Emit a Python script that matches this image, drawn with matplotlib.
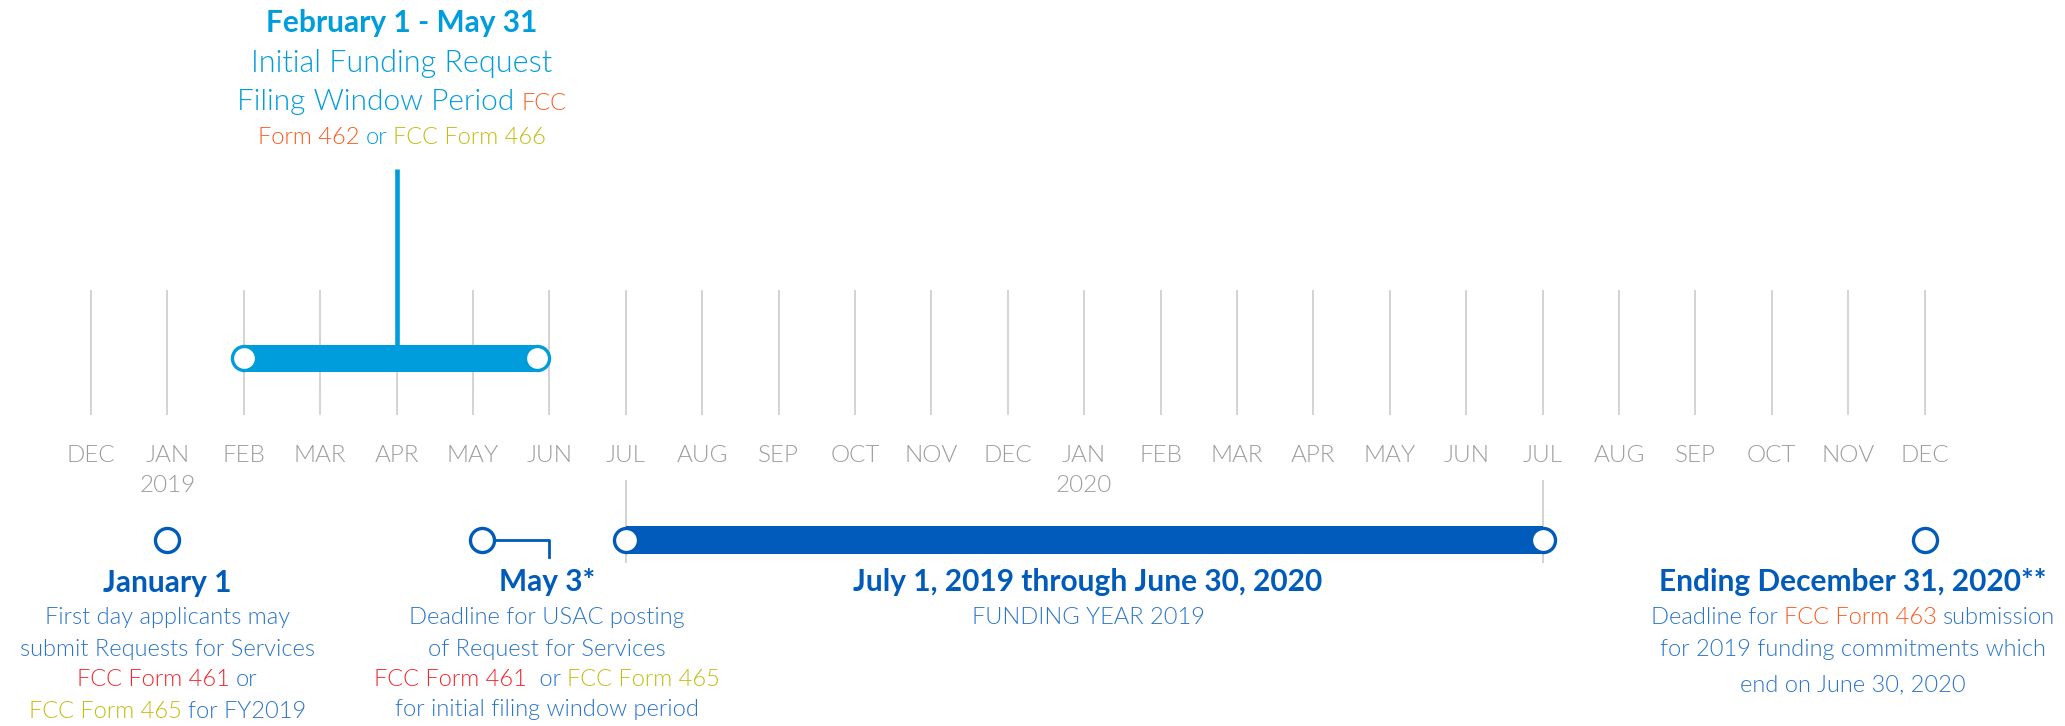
import matplotlib
matplotlib.use('Agg')
import matplotlib.pyplot as plt
from matplotlib.offsetbox import TextArea, HPacker, AnnotationBbox

plt.rcParams['font.family'] = ['Lato', 'DejaVu Sans']

# month axis: position = months after Dec 2018
months = ['DEC', 'JAN', 'FEB', 'MAR', 'APR', 'MAY', 'JUN',
          'JUL', 'AUG', 'SEP', 'OCT', 'NOV'] * 2 + ['DEC']
month_pos = list(range(len(months)))
year_pos = [1, 13]
year_labels = ['2019', '2020']

# filing window Feb 1 - May 31 2019, with its callout stem
window_start, window_end = 2.0, 5.84
window_stem = 4.0

# funding year Jul 1 2019 - Jun 30 2020
fy_start, fy_end = 7.0, 19.0

# single-day milestones
jan1 = 1.0
may3 = 5.12
may3_link = 6.0
dec31 = 24.0

LIGHT = '#009ddc'
DARK = '#005bbb'
BODY = '#2a74cc'
RED = '#f0282d'
ORANGE = '#ff5a1f'
YELLOW = '#c4bd10'
GRAY_TXT = '#9c9c9c'
GRID = '#cccccc'

BOLD = 21.5
BODY_SZ = 17
LW = 300  # light weight

fig = plt.figure(figsize=(20.65, 7.26), dpi=100)
ax = fig.add_axes([0, 0, 1, 1])
ax.set_xlim(-91 / 76.4, (2065 - 91) / 76.4)
ax.set_ylim(726, 0)
ax.axis('off')

# grid + month labels
ax.vlines(month_pos, 290, 415, color=GRID, lw=1.2, zorder=1)
ax.vlines([fy_start, fy_end], 480, 563, color=GRID, lw=1.2, zorder=1)
for m, lab in zip(month_pos, months):
    ax.text(m, 455, lab, ha='center', va='center', fontsize=17.5, color=GRAY_TXT, fontweight=LW)
for m, lab in zip(year_pos, year_labels):
    ax.text(m, 486, lab, ha='center', va='center', fontsize=17.5, color=GRAY_TXT, fontweight=LW)

# filing window bar
ax.vlines(window_stem, 169, 358, color=LIGHT, lw=3.3, zorder=3)
ax.barh(358, window_end - window_start, left=window_start, height=27, color=LIGHT, zorder=3)
ax.scatter([window_start, window_end], [358, 358], s=300, facecolor='white',
           edgecolor=LIGHT, lw=2.4, zorder=4)

# funding year bar and milestones
ax.plot([may3, may3_link, may3_link], [540, 540, 557], color=DARK, lw=2, zorder=2)
ax.barh(540, fy_end - fy_start, left=fy_start, height=28, color=DARK, zorder=3)
ax.scatter([fy_start, fy_end, jan1, may3, dec31], [540] * 5, s=300, facecolor='white',
           edgecolor=DARK, lw=2.4, zorder=4)


def line(x, y, parts, size, weight=LW):
    boxes = []
    for p in parts:
        t, c = p[0], p[1]
        s = p[2] if len(p) > 2 else size
        boxes.append(TextArea(t, textprops=dict(color=c, fontsize=s, fontweight=weight)))
    pack = HPacker(children=boxes, align='baseline', pad=0, sep=size * 0.26)
    ab = AnnotationBbox(pack, (x, y), frameon=False, box_alignment=(0.5, 0.5), pad=0, zorder=5)
    ax.add_artist(ab)


# top callout
tx = window_stem + 0.07
line(tx, 23, [('February 1 - May 31', LIGHT)], BOLD, 'bold')
line(tx, 63, [('Initial Funding Request', LIGHT)], 22)
line(tx, 102, [('Filing Window Period', LIGHT), ('FCC', ORANGE, 17)], 21.5)
line(tx, 137, [('Form 462', ORANGE), ('or', LIGHT), ('FCC Form 466', YELLOW)], 17)

# January 1
line(jan1, 583, [('January 1', DARK)], BOLD, 'bold')
line(jan1, 618, [('First day applicants may', BODY)], BODY_SZ)
line(jan1, 649, [('submit Requests for Services', BODY)], BODY_SZ)
line(jan1, 680, [('FCC Form 461', RED), ('or', BODY)], BODY_SZ)
line(jan1, 712, [('FCC Form 465', YELLOW), ('for FY2019', BODY)], BODY_SZ)

# May 3
mx = may3_link - 0.03
line(mx, 582, [('May 3*', DARK)], BOLD, 'bold')
line(mx, 617, [('Deadline for USAC posting', BODY)], BODY_SZ)
line(mx, 649, [('of Request for Services', BODY)], BODY_SZ)
line(mx, 680, [('FCC Form 461', RED), (' or', BODY), ('FCC Form 465', YELLOW)], BODY_SZ)
line(mx, 710, [('for initial filing window period', BODY)], BODY_SZ)

# funding year
fx = (fy_start + fy_end) / 2 + 0.05
line(fx, 582, [('July 1, 2019 through June 30, 2020', DARK)], BOLD, 'bold')
line(fx, 617, [('FUNDING YEAR 2019', BODY)], BODY_SZ)

# December 31
dx = dec31 - 0.94
line(dx, 582, [('Ending December 31, 2020**', DARK)], BOLD, 'bold')
line(dx, 618, [('Deadline for', BODY), ('FCC Form 463', ORANGE), ('submission', BODY)], BODY_SZ)
line(dx, 650, [('for 2019 funding commitments which', BODY)], BODY_SZ)
line(dx, 685, [('end on June 30, 2020', BODY)], BODY_SZ)

fig.savefig('out.png', dpi=100)
